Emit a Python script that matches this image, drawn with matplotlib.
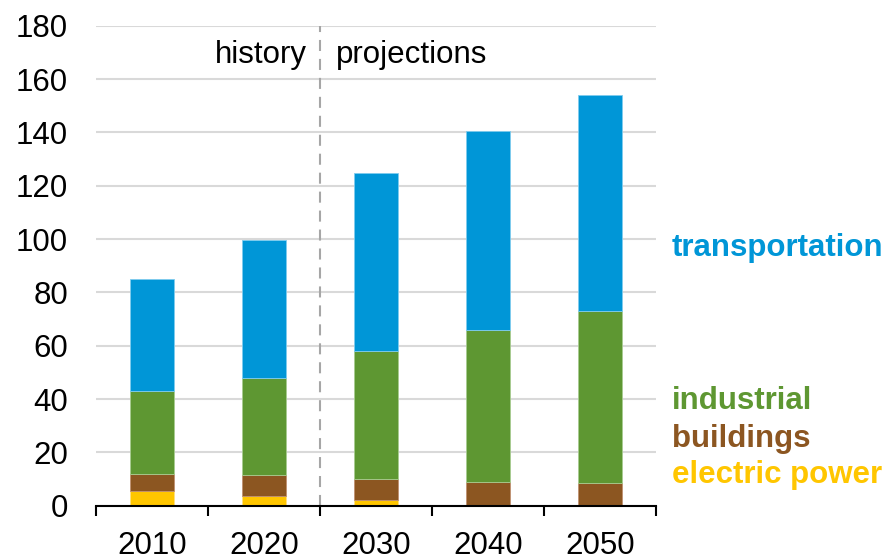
import matplotlib
matplotlib.use('Agg')
import matplotlib.pyplot as plt
import numpy as np
from matplotlib.transforms import offset_copy

# ---- data ----
years = ['2010', '2020', '2030', '2040', '2050']
electric_power = [5.4, 3.7, 2.0, 0.0, 0.0]
buildings = [6.4, 8.0, 8.0, 8.8, 8.7]
industrial = [31.3, 36.1, 48.0, 57.1, 64.5]
transportation = [41.8, 51.8, 66.9, 74.6, 80.7]
series_names = ['electric power', 'buildings', 'industrial', 'transportation']
y_ticks = [0, 20, 40, 60, 80, 100, 120, 140, 160, 180]

# ---- style ----
colors = ['#FFC600', '#8C5621', '#5E9732', '#0096D7']
edges = ['#FFE080', '#C09070', '#A8CC90', '#80CCEE']
label_y = [8.6, 22.1, 36.1, 93.6]

plt.rcParams['font.family'] = ['Liberation Sans', 'DejaVu Sans']

fig = plt.figure(figsize=(8.93, 5.57), dpi=100)
ax = fig.add_axes([96 / 893, (557 - 505.7) / 557, 560 / 893, 480 / 557])

x = np.arange(len(years))
series = [electric_power, buildings, industrial, transportation]
bottom = np.zeros(len(years))
for vals, c, ec in zip(series, colors, edges):
    ax.bar(x, vals, width=0.395, bottom=bottom, color=c, edgecolor=ec,
           linewidth=0.6, zorder=3)
    bottom += np.array(vals)

ax.set_xlim(-0.5, len(years) - 0.5)
ax.set_ylim(0, 180)
ax.set_yticks(y_ticks)
ax.set_yticklabels([str(v) for v in y_ticks], fontsize=22.5)
ax.tick_params(axis='y', length=0, pad=20)
ax.grid(axis='y', color='#D9D9D9', linewidth=1.5, zorder=0)
ax.set_axisbelow(True)

# x ticks: boundaries (major) and labels at centers (minor)
ax.set_xticks(np.arange(-0.5, len(years), 1.0))
ax.set_xticklabels([])
ax.set_xticks(x, minor=True)
ax.set_xticklabels(years, minor=True, fontsize=22.5)
ax.tick_params(axis='x', which='major', length=7.5, width=1.5, color='black', direction='out')
ax.tick_params(axis='x', which='minor', length=0, pad=18)

for s in ['left', 'right', 'top']:
    ax.spines[s].set_visible(False)
ax.spines['bottom'].set_linewidth(1.5)
ax.spines['bottom'].set_zorder(5)

# history/projections divider
ax.axvline(1.5, color='#A6A6A6', linewidth=1.5, linestyle=(0, (5.3, 3.8)), zorder=4)
ax.text(1.5, 165.9, 'history', ha='right', va='baseline', fontsize=22.5,
        transform=offset_copy(ax.transData, fig=fig, x=-9.4, units='points'))
ax.text(1.5, 165.9, 'projections', ha='left', va='baseline', fontsize=22.5,
        transform=offset_copy(ax.transData, fig=fig, x=11.5, units='points'))

# series labels at right
import matplotlib.transforms as mtrans
trans = mtrans.blended_transform_factory(ax.transAxes, ax.transData)
for name, c, ly in zip(series_names, colors, label_y):
    ax.text(1.0286, ly, name, color=c, fontsize=22.5, fontweight='bold',
            ha='left', va='baseline', transform=trans, clip_on=False)

fig.savefig('out.png', dpi=100)
